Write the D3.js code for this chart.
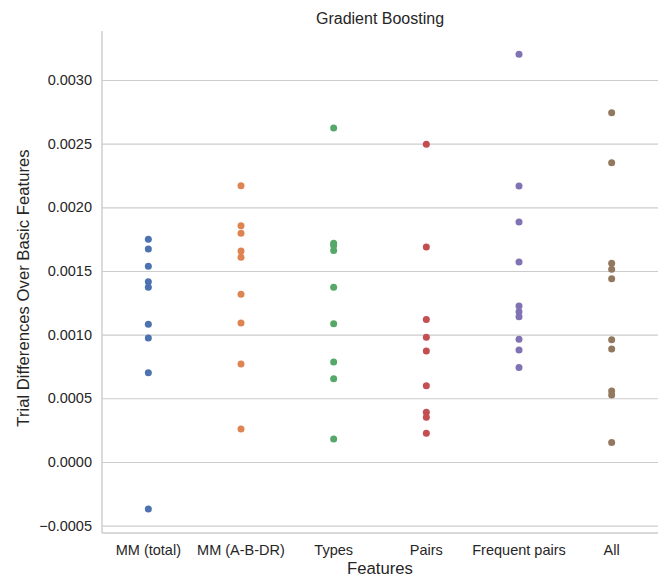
<!DOCTYPE html>
<html>
<head>
<meta charset="utf-8">
<script src="https://cdn.jsdelivr.net/npm/d3@7"></script>
<style>
  body { margin: 0; background: #fff; }
  svg { font-family: "Liberation Sans", Arial, sans-serif; }
  .axis text { fill: #262626; }
</style>
</head>
<body>
<svg width="662" height="579"></svg>
<script>
var categories = ["MM (total)", "MM (A-B-DR)", "Types", "Pairs", "Frequent pairs", "All"];

var mmTotal = [0.001749, 0.001673, 0.001537, 0.001416, 0.001372, 0.001081, 0.000974, 0.000701, -0.000369];
var mmABDR = [0.00217, 0.001856, 0.001796, 0.001657, 0.001608, 0.001317, 0.001092, 0.00077, 0.000259];
var types = [0.002623, 0.001717, 0.0017, 0.00166, 0.001372, 0.001086, 0.000785, 0.000654, 0.000181];
var pairs = [0.002495, 0.001688, 0.001118, 0.000979, 0.000872, 0.000599, 0.00039, 0.000351, 0.000225];
var frequentPairs = [0.003202, 0.002168, 0.001885, 0.001571, 0.001225, 0.00118, 0.001141, 0.000964, 0.00088, 0.000741];
var all = [0.002743, 0.00235, 0.00156, 0.001513, 0.00144, 0.00096, 0.000887, 0.000558, 0.000526, 0.000152];

var yTicks = [-0.0005, 0, 0.0005, 0.001, 0.0015, 0.002, 0.0025, 0.003];
var colors = ["#4C72B0", "#DD8452", "#55A868", "#C44E52", "#8172B3", "#937860"];

var series = [mmTotal, mmABDR, types, pairs, frequentPairs, all];

var svg = d3.select("svg"),
  margin = {
    top: 31,
    right: 4,
    bottom: 46,
    left: 102
  },
  width = svg.attr("width") - margin.left - margin.right,
  height = svg.attr("height") - margin.top - margin.bottom,
  g = svg.append("g").attr("transform", "translate(" + margin.left + "," + margin.top + ")");

var x = d3.scaleBand().domain(categories).range([0, width]).padding(0),
  y = d3.scaleLinear().domain([-0.000558, 0.003385]).range([height, 0]),
  z = d3.scaleOrdinal().domain(categories).range(colors);

// horizontal grid + y tick labels
var yAxis = g.append("g")
  .attr("class", "axis axis--y")
  .call(d3.axisLeft(y).tickValues(yTicks).tickFormat(d3.format(".4f")).tickSize(-width).tickPadding(10));
yAxis.select(".domain").remove();
yAxis.selectAll(".tick line").attr("stroke", "#cccccc").attr("stroke-width", 1.1);
yAxis.selectAll(".tick text").style("font-size", "14.5px");

// x tick labels
var xAxis = g.append("g")
  .attr("class", "axis axis--x")
  .attr("transform", "translate(0," + height + ")")
  .call(d3.axisBottom(x).tickSize(0).tickPadding(12));
xAxis.select(".domain").remove();
xAxis.selectAll(".tick text").style("font-size", "14.5px");

// spines (left and bottom only)
g.append("line")
  .attr("x1", 0).attr("x2", 0).attr("y1", 0).attr("y2", height)
  .attr("stroke", "#cccccc").attr("stroke-width", 1.4);
g.append("line")
  .attr("x1", 0).attr("x2", width).attr("y1", height).attr("y2", height)
  .attr("stroke", "#cccccc").attr("stroke-width", 1.4);

// points
var groups = g.selectAll(".strip")
  .data(series)
  .enter().append("g")
  .attr("class", "strip");

groups.selectAll("circle")
  .data(function(d, i) {
    return d.map(function(v) {
      return { cat: categories[i], value: v };
    });
  })
  .enter().append("circle")
  .attr("cx", function(d) { return x(d.cat) + x.bandwidth() / 2; })
  .attr("cy", function(d) { return y(d.value); })
  .attr("r", 3.5)
  .style("fill", function(d) { return z(d.cat); });

// labels
svg.append("text")
  .attr("x", margin.left + width / 2)
  .attr("y", 24)
  .attr("text-anchor", "middle")
  .style("font-size", "16px")
  .style("fill", "#262626")
  .text("Gradient Boosting");

svg.append("text")
  .attr("x", margin.left + width / 2)
  .attr("y", 574)
  .attr("text-anchor", "middle")
  .style("font-size", "16.7px")
  .style("fill", "#262626")
  .text("Features");

svg.append("text")
  .attr("transform", "translate(29," + (margin.top + height / 2 + 6) + ") rotate(-90)")
  .attr("text-anchor", "middle")
  .style("font-size", "16.7px")
  .style("fill", "#262626")
  .text("Trial Differences Over Basic Features");
</script>
</body>
</html>
